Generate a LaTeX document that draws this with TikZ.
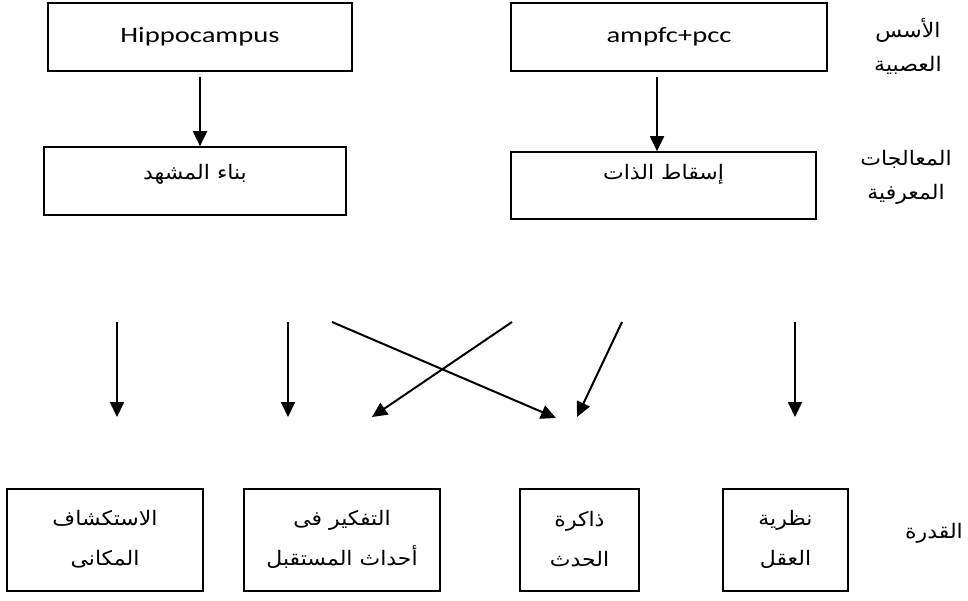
\documentclass[tikz,border=0pt]{standalone}
\usepackage{fontspec}
\setmainfont{Carlito}[FakeStretch=1.3]
\newfontfamily\arabicfont[Script=Arabic,FakeStretch=1.1]{DejaVu Sans}
\TeXXeTstate=1
\usetikzlibrary{arrows.meta}
\begin{document}
\begin{tikzpicture}[x=1pt,y=-1pt,
  boxn/.style={draw=black,line width=1.7pt,rectangle,inner sep=0pt},
  entext/.style={font=\fontsize{22}{26}\selectfont},
  artext/.style={font=\arabicfont\fontsize{20}{40}\selectfont,align=center,inner sep=0pt},
  lbltext/.style={font=\arabicfont\fontsize{20}{34}\selectfont,align=center,inner sep=0pt},
  arr/.style={line width=2pt,-{Triangle[length=15pt,width=14pt]}}]
\useasboundingbox (0,0) rectangle (968,600);
% top row
\node[boxn,minimum width=304pt,minimum height=68pt,entext] (hippo) at (200,37) {Hippocampus};
\node[boxn,minimum width=316pt,minimum height=68pt,entext] (ampfc) at (669,37) {ampfc+pcc};
% second row
\node[boxn,minimum width=302pt,minimum height=68pt] (scene) at (195,181) {};
\node[artext] (scenet) at ([yshift=7pt]scene.center) {\beginR بناء المشهد\endR};
\node[boxn,minimum width=305pt,minimum height=67pt] (self) at (663.5,185.5) {};
\node[artext] (selft) at ([yshift=11pt]self.center) {\beginR إسقاط الذات\endR};
% right labels
\node[lbltext] (l1) at (908,46) {\beginR الأسس\endR\\\beginR العصبية\endR};
\node[lbltext] (l2) at (906,177) {\beginR المعالجات\endR\\\beginR المعرفية\endR};
\node[artext] (l3) at (934,533) {\beginR القدرة\endR};
% bottom row
\node[boxn,minimum width=196pt,minimum height=102pt] (c1) at (105,540) {};
\node[artext] (c1t) at ([yshift=1pt]c1.center) {\beginR الاستكشاف\endR\\\beginR المكانى\endR};
\node[boxn,minimum width=196pt,minimum height=102pt] (c2) at (342,540) {};
\node[artext] (c2t) at ([yshift=1pt]c2.center) {\beginR التفكير فى\endR\\\beginR أحداث المستقبل\endR};
\node[boxn,minimum width=119pt,minimum height=102pt] (c3) at (579.5,540) {};
\node[artext] (c3t) at ([yshift=1pt]c3.center) {\beginR ذاكرة\endR\\\beginR الحدث\endR};
\node[boxn,minimum width=125pt,minimum height=102pt] (c4) at (785.5,540) {};
\node[artext] (c4t) at ([yshift=1pt]c4.center) {\beginR نظرية\endR\\\beginR العقل\endR};
% top arrows
\draw[arr] ([yshift=-5pt]hippo.south) -- (hippo.south |- scene.north);
\draw[arr] ([xshift=-12pt,yshift=-5pt]ampfc.south) -- ([xshift=-12pt]ampfc.south |- self.north);
% free arrows
\coordinate (s1) at (117,322); \coordinate (e1) at (117,417);
\coordinate (s2) at (288,322); \coordinate (e2) at (288,417);
\coordinate (s3) at (332,322); \coordinate (e3) at (556,418);
\coordinate (s4) at (512,322); \coordinate (e4) at (372,417);
\coordinate (s5) at (622,322); \coordinate (e5) at (577,417);
\coordinate (s6) at (795,322); \coordinate (e6) at (795,417);
\draw[arr] (s1) -- (e1);
\draw[arr] (s2) -- (e2);
\draw[arr] (s3) -- (e3);
\draw[arr] (s4) -- (e4);
\draw[arr] (s5) -- (e5);
\draw[arr] (s6) -- (e6);
\end{tikzpicture}
\end{document}
